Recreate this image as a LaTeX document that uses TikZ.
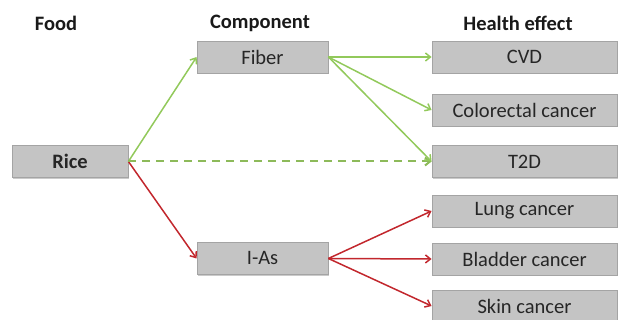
\documentclass[tikz,border=0pt]{standalone}
\usepackage{fontspec}
\setmainfont{Carlito}
\usetikzlibrary{arrows.meta,shadows}
\definecolor{boxfill}{HTML}{C4C4C4}
\definecolor{boxline}{HTML}{A4A4A4}
\definecolor{grn}{HTML}{92C95B}
\definecolor{dgrn}{HTML}{8DBA5A}
\definecolor{rd}{HTML}{C2272D}
\begin{document}
\begin{tikzpicture}[x=1pt,y=-1pt,
  box/.style={draw=boxline, line width=0.8pt, fill=boxfill, minimum height=32pt, inner sep=0pt,
    font=\fontsize{20.5}{24}\selectfont, text=black!85,
    drop shadow={shadow xshift=1.2pt, shadow yshift=-1.5pt, fill=black!35, opacity=0.6}},
  hdr/.style={font=\fontsize{20.5}{24}\selectfont\bfseries, text=black!90},
  garr/.style={draw=grn, line width=1.5pt, -{Straight Barb[length=5pt,width=8pt]}},
  rarr/.style={draw=rd, line width=1.5pt, -{Straight Barb[length=5pt,width=8pt]}},
  darr/.style={draw=dgrn, line width=2pt, dash pattern=on 8pt off 6pt, -{Straight Barb[length=5pt,width=8pt]}}]
\useasboundingbox (0,0) rectangle (619,320);
\node[hdr] (hfood) at (56,23) {Food};
\node[hdr] (hcomp) at (260,23) {Component};
\node[hdr] (hhe) at (518,23) {Health effect};
\node[box, minimum width=116pt] (rice) at (70,161.5) {\bfseries Rice};
\node[box, minimum width=131pt] (fiber) at (262.5,57) {Fiber};
\node[box, minimum width=131pt] (ias) at (262.5,258.5) {I-As};
\node[box, minimum width=185pt] (cvd) at (524.5,57) {CVD};
\node[box, minimum width=185pt] (crc) at (524.5,110) {Colorectal cancer};
\node[box, minimum width=185pt] (t2d) at (524.5,161.5) {T2D};
\node[box, minimum width=185pt] (lung) at (524.5,211) {Lung cancer};
\node[box, minimum width=185pt] (blad) at (524.5,259) {Bladder cancer};
\node[box, minimum width=185pt] (skin) at (524.5,306) {Skin cancer};
\draw[garr] (rice.east) -- (fiber.west);
\draw[rarr] (rice.east) -- (ias.west);
\draw[darr] (rice.east) -- (t2d.west);
\draw[garr] (fiber.east) -- (cvd.west);
\draw[garr] (fiber.east) -- (crc.west);
\draw[garr] (fiber.east) -- (t2d.west);
\draw[rarr] (ias.east) -- (lung.west);
\draw[rarr] (ias.east) -- (blad.west);
\draw[rarr] (ias.east) -- (skin.west);
\end{tikzpicture}
\end{document}
